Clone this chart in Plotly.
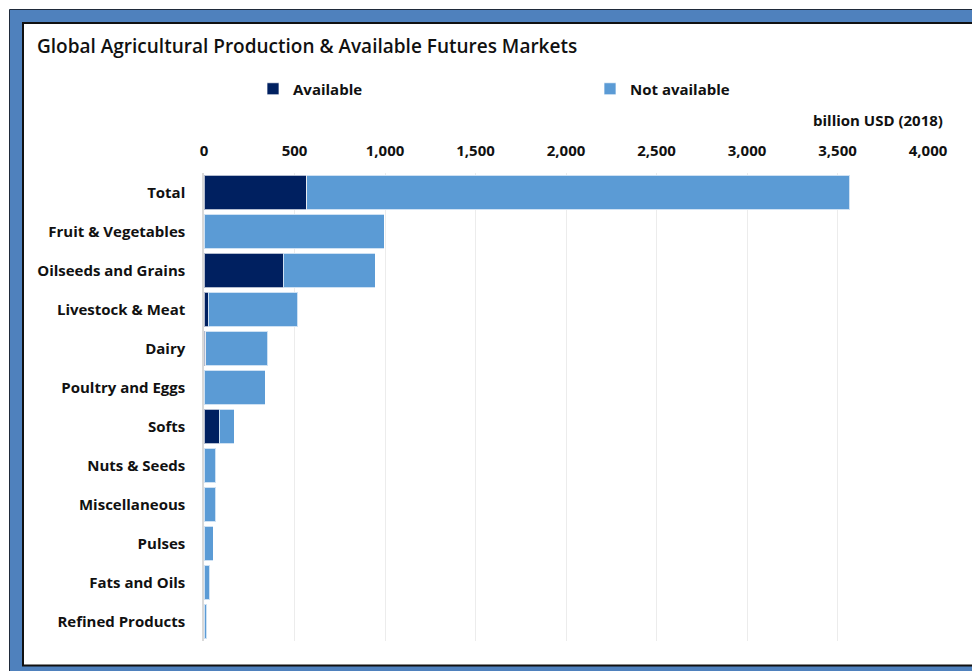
import plotly.graph_objects as go

categories = ["Total", "Fruit & Vegetables", "Oilseeds and Grains", "Livestock & Meat",
              "Dairy", "Poultry and Eggs", "Softs", "Nuts & Seeds", "Miscellaneous",
              "Pulses", "Fats and Oils", "Refined Products"]
available = [569, 0, 438, 24, 10, 0, 83, 0, 0, 0, 0, 0]
not_available = [3000, 997, 507, 495, 343, 337, 83, 66, 66, 52, 33, 15]
tick_vals = [0, 500, 1000, 1500, 2000, 2500, 3000, 3500, 4000]
tick_text = ["0", "500", "1,000", "1,500", "2,000", "2,500", "3,000", "3,500", "4,000"]

W, H = 972, 671
L, R, T, B = 204, 928, 173, 641

def px(x):
    return (x - L) / (R - L)

def py(y):
    return (B - y) / (B - T)

FONT = "Open Sans"
LBL = dict(family=FONT, size=15, color="#111111", weight="bold")

fig = go.Figure()
fig.add_trace(go.Bar(y=categories, x=available, orientation="h", name="Available",
                     marker=dict(color="#002060", line=dict(color="rgba(255,255,255,0.7)", width=1))))
fig.add_trace(go.Bar(y=categories, x=not_available, orientation="h", name="Not available",
                     marker=dict(color="#5b9bd5", line=dict(color="rgba(255,255,255,0.7)", width=1))))

shapes = [
    dict(type="rect", xref="paper", yref="paper", layer="below",
         x0=px(9.5), x1=px(990), y0=py(680), y1=py(9.5),
         fillcolor="#4f81bd", line=dict(color="#1f2a3a", width=1)),
    dict(type="rect", xref="paper", yref="paper", layer="below",
         x0=px(23), x1=px(1000), y0=py(665.5), y1=py(23),
         fillcolor="white", line=dict(color="#111111", width=2)),
]

fig.update_layout(
    width=W, height=H,
    margin=dict(l=L, r=W - R, t=T, b=H - B, pad=0),
    paper_bgcolor="white", plot_bgcolor="rgba(0,0,0,0)",
    barmode="stack", bargap=0.12,
    font=dict(family=FONT, color="#1a1a1a"),
    title=dict(text="Global Agricultural Production & Available Futures Markets",
               x=37 / W, xanchor="left", y=1 - 46 / H, yanchor="middle",
               font=dict(family=FONT, size=19, color="#111111", weight=600)),
    legend=dict(orientation="h", x=px(253), xanchor="left", y=py(89), yanchor="middle",
                entrywidth=292, entrywidthmode="pixels", itemwidth=30,
                font=LBL, bgcolor="rgba(0,0,0,0)", traceorder="normal"),
    xaxis=dict(side="top", range=[0, 4000], tickvals=tick_vals, ticktext=tick_text,
               showgrid=True, gridcolor="#ececec", gridwidth=1, zeroline=False,
               showline=False, ticks="", ticklabelstandoff=13,
               tickfont=LBL, fixedrange=True),
    yaxis=dict(autorange="reversed", showline=True, linecolor="#d9d9d9", linewidth=1.5,
               ticks="", ticklabelstandoff=14, showgrid=False,
               tickfont=LBL),
    shapes=shapes,
    annotations=[dict(text="billion USD (2018)", xref="paper", yref="paper",
                      x=px(945), y=py(120), xanchor="right", yanchor="middle",
                      showarrow=False, font=LBL)],
)

fig.write_html("out.html", config={"displayModeBar": False},
               post_script="document.body.style.margin='0';")
